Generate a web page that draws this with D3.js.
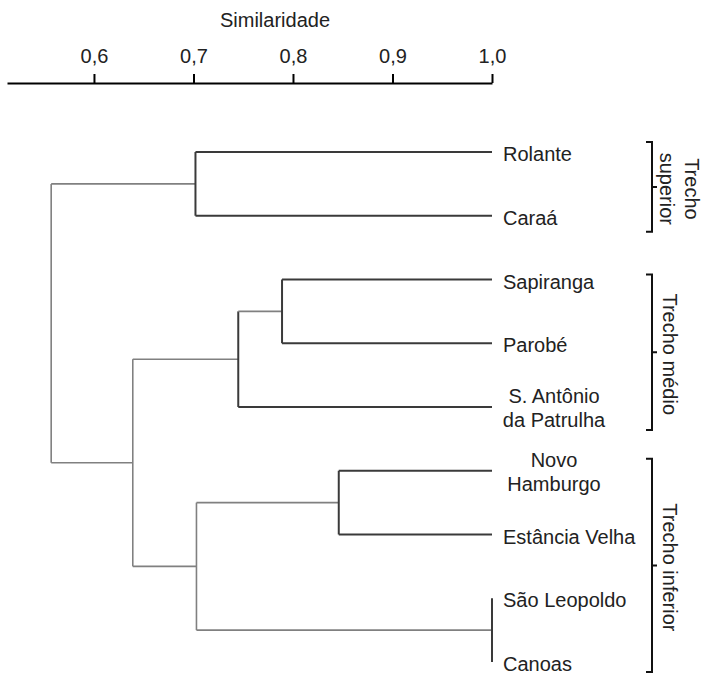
<!DOCTYPE html>
<html>
<head>
<meta charset="utf-8">
<script src="https://cdn.jsdelivr.net/npm/d3@7"></script>
<style>
  html, body { margin: 0; padding: 0; background: #fff; }
  svg { display: block; font-family: "Liberation Sans", Arial, sans-serif; }
</style>
</head>
<body>
<svg id="chart" width="703" height="674"></svg>
<script>
// ---- data ----
const leaves = ["Rolante", "Caraá", "Sapiranga", "Parobé", "S. Antônio\nda Patrulha",
                "Novo\nHamburgo", "Estância Velha", "São Leopoldo", "Canoas"];
const mergeIds   = ["m1", "m2", "m3", "m4", "m5", "m6", "m7", "m8"];
const mergeLeft  = ["Rolante", "Sapiranga", "m2", "Novo\nHamburgo", "São Leopoldo", "m4", "m3", "m1"];
const mergeRight = ["Caraá", "Parobé", "S. Antônio\nda Patrulha", "Estância Velha", "Canoas", "m5", "m6", "m7"];
const mergeSim   = [0.702, 0.789, 0.745, 0.846, 1.0, 0.703, 0.639, 0.557];
const tickValues = [0.6, 0.7, 0.8, 0.9, 1.0];
const groupNames = [["Trecho", "superior"], ["Trecho médio"], ["Trecho inferior"]];
const groupFirst = ["Rolante", "Sapiranga", "Novo\nHamburgo"];
const groupLast  = ["Caraá", "S. Antônio\nda Patrulha", "Canoas"];
const axisTitle = "Similaridade";

// ---- build hierarchy ----
function build(id) {
  const i = mergeIds.indexOf(id);
  if (i < 0) return { name: id, sim: 1.0 };
  return { name: id, sim: mergeSim[i], children: [build(mergeLeft[i]), build(mergeRight[i])] };
}
const root = d3.hierarchy(build("m8"));

const svg = d3.select("#chart");
const x = d3.scaleLinear().domain([0.5126, 1.0]).range([7, 492]);
const y = d3.scalePoint().domain(leaves).range([152, 662]);

// positions
root.eachAfter(n => {
  n.px = x(n.data.sim);
  n.py = n.children ? d3.mean(n.children, c => c.py) : y(n.data.name);
});

// ---- axis ----
const axis = d3.axisTop(x)
  .tickValues(tickValues)
  .tickSize(9)
  .tickPadding(11)
  .tickSizeOuter(0)
  .tickFormat(d => d3.format(".1f")(d).replace(".", ","));
const gAxis = svg.append("g").attr("transform", "translate(0,83)").call(axis);
gAxis.select(".domain").attr("stroke", "#000").attr("stroke-width", 2);
gAxis.selectAll(".tick line").attr("stroke", "#000").attr("stroke-width", 2);
gAxis.selectAll(".tick text").attr("fill", "#222").style("font-size", "20px")
  .style("font-family", "'Liberation Sans', Arial, sans-serif");

svg.append("text").attr("x", 275).attr("y", 27).attr("text-anchor", "middle")
  .attr("fill", "#222").style("font-size", "20px").text(axisTitle);

// ---- dendrogram ----
const dark = "#3a3a3a", grey = "#808080";
const gTree = svg.append("g").attr("fill", "none");
root.descendants().filter(n => n.children).forEach(n => {
  const hasLeaf = n.children.some(c => !c.children);
  // vertical
  gTree.append("line")
    .attr("x1", n.px).attr("x2", n.px)
    .attr("y1", d3.min(n.children, c => c.py)).attr("y2", d3.max(n.children, c => c.py))
    .attr("stroke", hasLeaf ? dark : grey).attr("stroke-width", hasLeaf ? 2 : 1.6);
  // horizontals
  n.children.forEach(c => {
    if (c.px === n.px) return;
    const leaf = !c.children;
    gTree.append("line")
      .attr("x1", n.px).attr("x2", c.px).attr("y1", c.py).attr("y2", c.py)
      .attr("stroke", leaf ? dark : grey).attr("stroke-width", leaf ? 2 : 1.6);
  });
});

// ---- leaf labels ----
const gLab = svg.append("g").attr("fill", "#222").style("font-size", "20px");
root.leaves().forEach(l => {
  const lines = l.data.name.split("\n");
  if (lines.length === 1) {
    gLab.append("text").attr("x", 503).attr("y", l.py + 9).text(lines[0]);
  } else {
    const t = gLab.append("text").attr("text-anchor", "middle");
    lines.forEach((s, i) => t.append("tspan").attr("x", 554).attr("y", l.py - 4 + i * 24).text(s));
  }
});

// ---- group brackets ----
const padTop = [10, 5, 12], padBot = [16, 23, 10];
groupNames.forEach((names, i) => {
  const y0 = y(groupFirst[i]) - padTop[i];
  const y1 = y(groupLast[i]) + padBot[i];
  const ym = (y0 + y1) / 2;
  const bx = 652;
  svg.append("path")
    .attr("d", `M${bx - 6},${y0}H${bx}V${y1}H${bx - 6}M${bx},${ym}H${bx + 5}`)
    .attr("fill", "none").attr("stroke", "#111").attr("stroke-width", 2);
  const tx = names.length === 2 ? 685 : 663;
  const t = svg.append("text")
    .attr("transform", `translate(${tx},${ym + 2}) rotate(90)`)
    .attr("text-anchor", "middle").attr("fill", "#222").style("font-size", "20px");
  names.forEach((s, j) => t.append("tspan").attr("x", 0).attr("y", j * 25).text(s));
});
</script>
</body>
</html>
